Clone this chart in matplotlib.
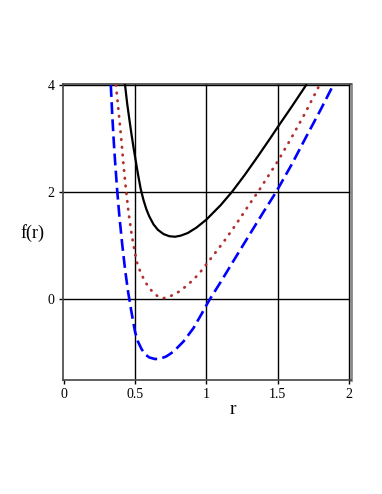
import matplotlib
matplotlib.use('Agg')
import matplotlib.pyplot as plt

# curves
r_black = [0.43, 0.445, 0.46, 0.475, 0.49, 0.505, 0.52, 0.54, 0.56, 0.58, 0.60, 0.63, 0.66,
           0.70, 0.74, 0.78, 0.82, 0.87, 0.93, 1.00, 1.10, 1.18, 1.27, 1.36, 1.45, 1.50,
           1.60, 1.70]
f_black = [4.0, 3.65, 3.36, 3.08, 2.82, 2.58, 2.34, 2.05, 1.84, 1.67, 1.54, 1.39, 1.29,
           1.21, 1.17, 1.16, 1.18, 1.23, 1.33, 1.48, 1.75, 2.0, 2.32, 2.66, 3.01, 3.21,
           3.60, 4.0]

r_brown = [0.366, 0.385, 0.404, 0.42, 0.437, 0.455, 0.477, 0.495, 0.512, 0.535, 0.559,
           0.58, 0.606, 0.63, 0.657, 0.68, 0.70, 0.72, 0.742, 0.78, 0.82, 0.864, 0.911,
           0.958, 0.993, 1.063, 1.134, 1.197, 1.263, 1.30, 1.37, 1.50, 1.59, 1.69, 1.79]
f_brown = [4.0, 3.5, 2.97, 2.48, 2.03, 1.6, 1.19, 0.92, 0.69, 0.52, 0.38,
           0.28, 0.18, 0.11, 0.05, 0.02, 0.01, 0.02, 0.04, 0.09, 0.15, 0.25, 0.36,
           0.50, 0.62, 0.86, 1.11, 1.35, 1.61, 1.76, 2.03, 2.57, 2.98, 3.46, 3.98]

r_blue = [0.33, 0.34, 0.35, 0.36, 0.375, 0.39, 0.41, 0.43, 0.45, 0.475, 0.50, 0.52, 0.545,
          0.57, 0.60, 0.64, 0.68, 0.72, 0.77, 0.84, 0.91, 0.97, 1.02, 1.10, 1.20, 1.31,
          1.40, 1.49, 1.60, 1.70, 1.80, 1.89]
f_blue = [4.0, 3.45, 2.98, 2.57, 2.02, 1.55, 1.02, 0.55, 0.15, -0.25, -0.62, -0.8, -0.94,
          -1.04, -1.1, -1.13, -1.12, -1.08, -0.99, -0.80, -0.55, -0.27, -0.03, 0.31, 0.75, 1.23,
          1.62, 2.0, 2.52, 3.03, 3.53, 4.0]

x_ticks = [0, 0.5, 1, 1.5, 2]
x_labels = ['0', '0.5', '1', '1.5', '2']
y_ticks = [0, 2, 4]
y_labels = ['0', '2', '4']

plt.rcParams['font.family'] = ['Liberation Serif', 'DejaVu Serif']

fig = plt.figure(figsize=(3.82, 4.94), dpi=100)
ax = fig.add_axes([0.165, 0.231, 0.754, 0.599])

for xv in x_ticks[1:]:
    ax.axvline(xv, color='black', lw=1, zorder=1)
for yv in y_ticks:
    ax.axhline(yv, color='black', lw=1, zorder=1)

ax.plot(r_black, f_black, color='black', lw=1.6, zorder=3)
ax.plot(r_brown, f_brown, color='#b22f2f', lw=2.0, linestyle=(0, (0.2, 2.6)),
        dash_capstyle='round', zorder=3)
ax.plot(r_blue, f_blue, color='#0000ff', lw=1.9, linestyle=(0, (4.5, 2.0)), zorder=3)

ax.set_xlim(-0.005, 2.015)
ax.set_ylim(-1.52, 4.02)
ax.set_xticks(x_ticks)
ax.set_xticklabels(x_labels)
ax.set_yticks(y_ticks)
ax.set_yticklabels(y_labels)
ax.tick_params(length=3, width=1, labelsize=10, pad=3)

for s in ax.spines.values():
    s.set_color('#444444')
    s.set_linewidth(1.2)
ax.spines['right'].set_color('#888888')
ax.spines['right'].set_linewidth(2)

fig.text(0.085, 0.528, 'f(r)', fontsize=13, ha='center', va='center')
fig.text(0.61, 0.172, 'r', fontsize=14, ha='center', va='center')

plt.savefig('out.png', dpi=100)
